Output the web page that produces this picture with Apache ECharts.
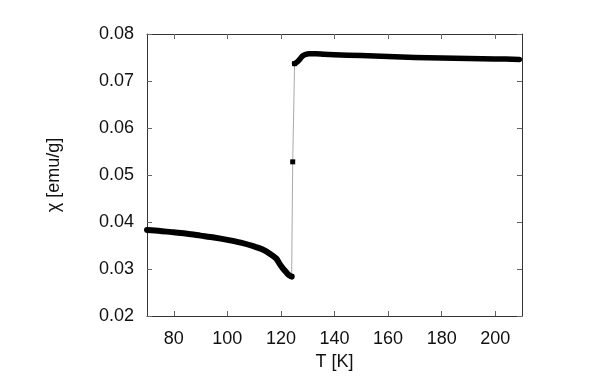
<!DOCTYPE html>
<html>
<head>
<meta charset="utf-8">
<script src="https://cdn.jsdelivr.net/npm/echarts@6/dist/echarts.min.js"></script>
<style>
  html, body { margin: 0; padding: 0; background: #fff; }
  #main { width: 600px; height: 390px; }
</style>
</head>
<body>
<div id="main"></div>
<script>
// low temperature branch (T [K], chi [emu/g])
var lowT   = [70, 75, 80, 85, 90, 95, 100, 105, 110, 113, 116, 118.3, 119.5, 120.8, 122, 123, 124];
var lowChi = [0.0383, 0.0381, 0.0378, 0.0375, 0.0371, 0.0367, 0.0362, 0.0356, 0.0348, 0.0342, 0.0332, 0.0322, 0.0311, 0.0301, 0.0293, 0.0287, 0.0284];
// jump through the transition (thin line)
var jumpT   = [124, 124.4, 125.1];
var jumpChi = [0.0284, 0.0528, 0.0737];
// high temperature branch
var highT   = [125.1, 126, 127, 128, 129, 130.5, 133, 136, 140, 150, 160, 170, 180, 190, 200, 209];
var highChi = [0.0737, 0.0740, 0.0746, 0.0753, 0.0756, 0.0758, 0.0758, 0.0757, 0.0756, 0.0754, 0.0752, 0.0750, 0.0749, 0.0748, 0.0747, 0.0746];
// tick labels
var xTicks = [80, 100, 120, 140, 160, 180, 200];

function pairs(xs, ys) {
  return xs.map(function (x, i) { return [x, ys[i]]; });
}

var chart = echarts.init(document.getElementById('main'), null, { renderer: 'canvas' });
var font = 'Liberation Sans, Arial, sans-serif';
var axisCol = '#333';

var option = {
  animation: false,
  backgroundColor: '#fff',
  grid: { left: 147, right: 78, top: 34, bottom: 74 },
  xAxis: [
    {
      type: 'value', min: 70, max: 210,
      name: 'T [K]', nameLocation: 'middle', nameGap: 34,
      nameTextStyle: { fontFamily: font, fontSize: 18, color: '#111' },
      axisLine: { onZero: false, lineStyle: { color: axisCol, width: 1 } },
      axisTick: { inside: true, length: 5, customValues: xTicks, lineStyle: { color: '#666' } },
      axisLabel: { customValues: xTicks, margin: 14, fontFamily: font, fontSize: 18, color: '#111' },
      splitLine: { show: false }
    },
    {
      type: 'value', min: 70, max: 210, position: 'top',
      axisLine: { onZero: false, lineStyle: { color: axisCol, width: 1 } },
      axisTick: { inside: true, length: 5, customValues: xTicks, lineStyle: { color: '#666' } },
      axisLabel: { show: false },
      splitLine: { show: false }
    }
  ],
  yAxis: [
    {
      type: 'value', min: 0.02, max: 0.08, interval: 0.01,
      name: 'χ [emu/g]', nameLocation: 'middle', nameGap: 84, nameRotate: 90,
      nameTextStyle: { fontFamily: font, fontSize: 18, color: '#111' },
      axisLine: { show: true, onZero: false, lineStyle: { color: axisCol, width: 1 } },
      axisTick: { show: true, inside: true, length: 5, lineStyle: { color: '#666' } },
      axisLabel: {
        margin: 13, fontFamily: font, fontSize: 18, color: '#111',
        formatter: function (v) { return v.toFixed(2); }
      },
      splitLine: { show: false }
    },
    {
      type: 'value', min: 0.02, max: 0.08, interval: 0.01, position: 'right',
      axisLine: { show: true, onZero: false, lineStyle: { color: axisCol, width: 1 } },
      axisTick: { show: true, inside: true, length: 5, lineStyle: { color: '#666' } },
      axisLabel: { show: false },
      splitLine: { show: false }
    }
  ],
  series: [
    {
      name: 'jump', type: 'line', data: pairs(jumpT, jumpChi),
      symbol: 'rect', symbolSize: 5, showAllSymbol: true,
      itemStyle: { color: '#000' },
      lineStyle: { color: '#aaa', width: 1 },
      z: 2
    },
    {
      name: 'low', type: 'line', data: pairs(lowT, lowChi),
      symbol: 'none', smooth: 0.3,
      lineStyle: { color: '#000', width: 6, cap: 'round', join: 'round' },
      z: 3
    },
    {
      name: 'high', type: 'line', data: pairs(highT, highChi),
      symbol: 'none', smooth: 0.3,
      lineStyle: { color: '#000', width: 5.5, cap: 'round', join: 'round' },
      z: 3
    }
  ]
};
chart.setOption(option);
</script>
</body>
</html>
